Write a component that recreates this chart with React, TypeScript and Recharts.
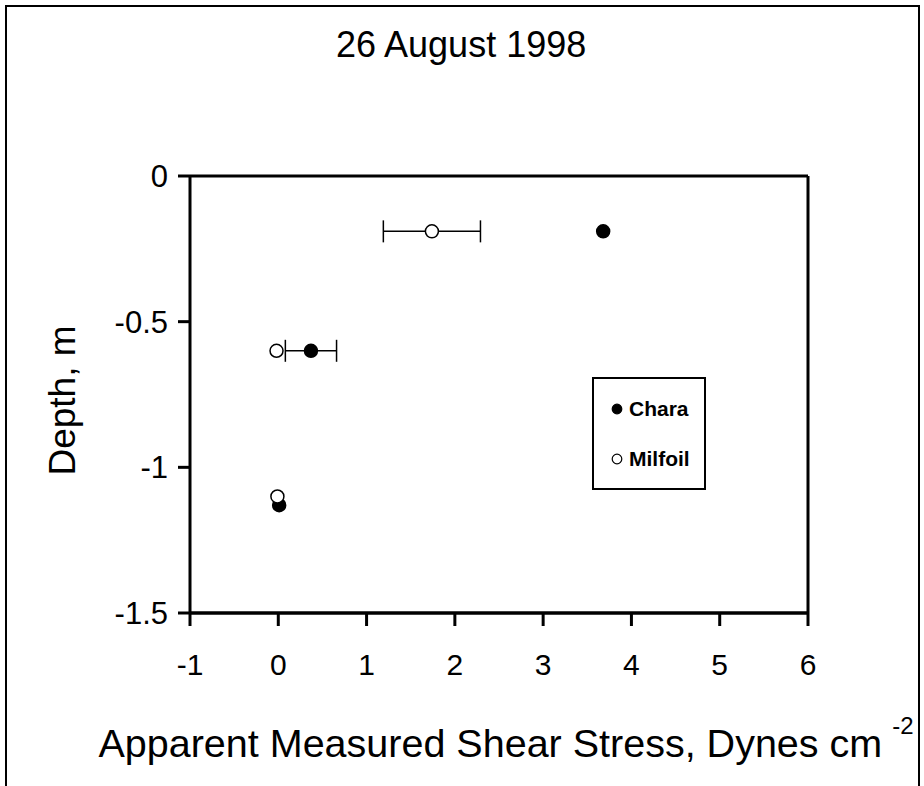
import React from "react";

// charts
import {
  ScatterChart,
  Scatter,
  XAxis,
  YAxis,
  ErrorBar,
  ReferenceLine,
  Legend,
  Label,
} from "recharts";

const FONT = "'Liberation Sans', Arial, sans-serif";

// values
const seriesNames = ["Chara", "Milfoil"];
const charaStress = [3.68, 0.37, 0.01];
const charaDepth = [-0.19, -0.6, -1.13];
const charaErr = [0, 0.29, 0];
const milfoilStress = [1.74, -0.02, -0.01];
const milfoilDepth = [-0.19, -0.6, -1.1];
const milfoilErr = [0.55, 0, 0];
const xTicks = [-1, 0, 1, 2, 3, 4, 5, 6];
const yTicks = [0, -0.5, -1, -1.5];

const charaData = charaStress.map((x, i) => ({x, y: charaDepth[i], err: charaErr[i]}));
const milfoilData = milfoilStress.map((x, i) => ({x, y: milfoilDepth[i], err: milfoilErr[i]}));

const markerFill = ["#000", "#fff"];

const dot = (fill: string) => (props: any) =>
  <circle cx={props.cx} cy={props.cy} r={6.5} fill={fill} stroke="#000" strokeWidth={1.5} />;

const XTitle = ({viewBox}: any) => {
  const cx = viewBox.x + viewBox.width / 2 + 7;
  const y = viewBox.y + viewBox.height - 6;
  return (
    <text x={cx} y={y} textAnchor="middle" fontSize={39.5} fontFamily={FONT} fill="#000">
      Apparent Measured Shear Stress, Dynes cm
      <tspan dx={10} dy={-23} fontSize={24}>-2</tspan>
    </text>
  );
};

const YTitle = ({viewBox}: any) => {
  const x = viewBox.x + 32;
  const y = viewBox.y + viewBox.height / 2 + 6;
  return (
    <text
      x={x}
      y={y}
      dy="0.36em"
      transform={`rotate(-90, ${x}, ${y})`}
      textAnchor="middle"
      fontSize={37}
      fontFamily={FONT}
      fill="#000"
    >
      Depth, m
    </text>
  );
};

const LegendBox = () => (
  <div
    style={{
      width: 114,
      height: 113,
      border: "2px solid #000",
      boxSizing: "border-box",
      background: "#fff",
      paddingTop: 5,
      fontFamily: FONT,
      fontSize: 21,
      fontWeight: "bold",
      color: "#000",
    }}
  >
    {seriesNames.map((name, i) => (
      <div key={name} style={{display: "flex", alignItems: "center", height: 50}}>
        <svg width={12} height={12} style={{marginLeft: 17, marginRight: 6}}>
          <circle cx={6} cy={6} r={4.8} fill={markerFill[i]} stroke="#000" strokeWidth={1.2} />
        </svg>
        <span>{name}</span>
      </div>
    ))}
  </div>
);

export default function App() {
  return (
    <div style={{position: "absolute", left: 0, top: 0, width: 924, height: 786, background: "#fff"}}>
      <div
        style={{
          position: "absolute",
          left: 5,
          top: 5,
          width: 911,
          height: 781,
          borderTop: "2px solid #000",
          borderLeft: "2px solid #000",
          borderRight: "2px solid #000",
        }}
      />
      <div
        style={{
          position: "absolute",
          left: 336,
          top: 27,
          fontFamily: FONT,
          fontSize: 36,
          lineHeight: 1,
          whiteSpace: "nowrap",
          color: "#000",
        }}
      >
        26 August 1998
      </div>
      <ScatterChart width={924} height={786} margin={{top: 176, right: 116, bottom: 23, left: 30}}>
        <XAxis
          type="number"
          dataKey="x"
          domain={[-1, 6]}
          ticks={xTicks}
          interval={0}
          height={150}
          axisLine={{stroke: "#000", strokeWidth: 3.5}}
          tickLine={{stroke: "#000", strokeWidth: 3}}
          tickSize={13}
          tickMargin={28}
          tick={{fill: "#000", fontSize: 30, fontFamily: FONT}}
        >
          <Label content={<XTitle />} />
        </XAxis>
        <YAxis
          type="number"
          dataKey="y"
          domain={[-1.5, 0]}
          ticks={yTicks}
          interval={0}
          width={160}
          axisLine={{stroke: "#000", strokeWidth: 3}}
          tickLine={{stroke: "#000", strokeWidth: 3}}
          tickSize={12}
          tickMargin={10}
          tick={{fill: "#000", fontSize: 31, fontFamily: FONT}}
        >
          <Label content={<YTitle />} />
        </YAxis>
        <ReferenceLine y={0} stroke="#000" strokeWidth={3} />
        <ReferenceLine x={6} stroke="#000" strokeWidth={3} />
        <Legend
          layout="vertical"
          align="center"
          verticalAlign="middle"
          content={<LegendBox />}
          wrapperStyle={{left: 592, top: 377, width: 114, height: 113}}
        />
        <Scatter name="Chara" data={charaData} shape={dot("#000")} isAnimationActive={false}>
          <ErrorBar dataKey="err" direction="x" width={11} stroke="#000" strokeWidth={1.5} />
        </Scatter>
        <Scatter name="Milfoil" data={milfoilData} shape={dot("#fff")} isAnimationActive={false}>
          <ErrorBar dataKey="err" direction="x" width={11} stroke="#000" strokeWidth={1.5} />
        </Scatter>
      </ScatterChart>
    </div>
  );
}
